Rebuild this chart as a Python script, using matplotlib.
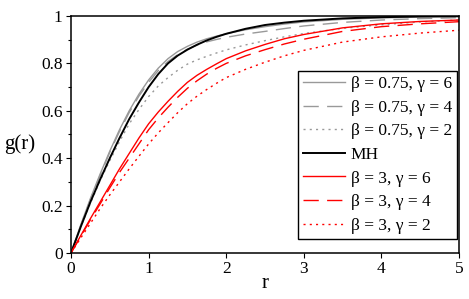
import matplotlib
matplotlib.use('Agg')
import matplotlib.pyplot as plt
from matplotlib.ticker import MultipleLocator

plt.rcParams['font.family'] = ['Liberation Serif', 'DejaVu Serif']

# values
r = [0, 0.125, 0.25, 0.375, 0.5, 0.625, 0.75, 0.875, 1, 1.125, 1.25, 1.375, 1.5, 1.625,
     1.75, 1.875, 2, 2.25, 2.5, 2.75, 3, 3.5, 4, 4.5, 5]
g_b075_g6 = [0, .118, .23, .333, .43, .52, .60, .67, .73, .78, .82, .85, .872, .89,
             .904, .915, .925, .942, .955, .966, .975, .986, .992, .996, .998]
g_b075_g4 = [0, .115, .225, .327, .425, .513, .593, .662, .72, .77, .808, .837, .86, .877,
             .891, .901, .91, .924, .935, .947, .958, .973, .983, .989, .993]
g_b075_g2 = [0, .11, .21, .305, .39, .47, .545, .605, .66, .705, .74, .771, .797, .815,
             .83, .844, .857, .878, .896, .912, .926, .948, .963, .975, .983]
g_mh = [0, .11, .215, .31, .40, .485, .565, .635, .70, .755, .80, .833, .858, .879,
        .897, .912, .925, .946, .962, .972, .98, .99, .995, .998, .999]
g_b3_g6 = [0, .073, .145, .215, .285, .355, .42, .485, .545, .595, .64, .682, .72, .75,
           .775, .798, .82, .853, .88, .904, .922, .95, .967, .977, .983]
g_b3_g4 = [0, .07, .14, .207, .275, .34, .40, .46, .52, .57, .615, .657, .695, .727,
           .755, .779, .80, .832, .858, .882, .902, .935, .955, .967, .976]
g_b3_g2 = [0, .063, .125, .187, .245, .30, .355, .408, .46, .507, .55, .592, .63, .662,
           .69, .716, .74, .775, .805, .832, .855, .89, .912, .928, .94]

xticks = [0, 1, 2, 3, 4, 5]
yticks = [0, 0.2, 0.4, 0.6, 0.8, 1]
ytick_labels = ['0', '0.2', '0.4', '0.6', '0.8', '1']

gray = '#999999'
red = '#ff0000'

fig = plt.figure(figsize=(4.69, 2.99), dpi=100)
ax = fig.add_axes([71/469, 1 - 253/299, 388/469, 237/299])

ax.plot(r, g_b075_g6, color=gray, lw=1.0, label='β = 0.75, γ = 6')
ax.plot(r, g_b075_g4, color=gray, lw=1.0, dashes=(11, 6), label='β = 0.75, γ = 4')
ax.plot(r, g_b075_g2, color=gray, lw=1.0, dashes=(1.5, 3), label='β = 0.75, γ = 2')
ax.plot(r, g_mh, color='black', lw=1.4, label='MH')
ax.plot(r, g_b3_g6, color=red, lw=1.0, label='β = 3, γ = 6')
ax.plot(r, g_b3_g4, color=red, lw=1.0, dashes=(11, 6), label='β = 3, γ = 4')
ax.plot(r, g_b3_g2, color=red, lw=1.0, dashes=(1.5, 3), label='β = 3, γ = 2')

ax.set_xlim(0, 5)
ax.set_ylim(0, 1)
ax.set_xticks(xticks)
ax.set_xticklabels([str(x) for x in xticks])
ax.set_yticks(yticks)
ax.set_yticklabels(ytick_labels)
ax.yaxis.set_minor_locator(MultipleLocator(0.1))
ax.tick_params(axis='both', which='major', direction='out', length=3.5, width=0.8,
               labelsize=12.5, pad=2.5)
ax.tick_params(axis='y', which='minor', direction='out', length=2, width=0.8)
for s in ax.spines.values():
    s.set_linewidth(1.1)

ax.set_xlabel('r', fontsize=15)
ax.xaxis.set_label_coords(0.5, -0.13)
ax.xaxis.label.set_va('center')
ax.set_ylabel('g(r)', fontsize=15, rotation=0)
ax.yaxis.set_label_coords(-0.131, 0.46)
ax.yaxis.label.set_va('center')
ax.yaxis.label.set_ha('center')

leg = ax.legend(loc='lower right', bbox_to_anchor=(0.995, 0.059), borderaxespad=0,
                fontsize=12.5, fancybox=False, edgecolor='black', framealpha=1,
                handlelength=2.4, handletextpad=0.35, labelspacing=0.43, borderpad=0.3)
leg.get_frame().set_linewidth(1.0)

fig.savefig('out.png', dpi=100)
